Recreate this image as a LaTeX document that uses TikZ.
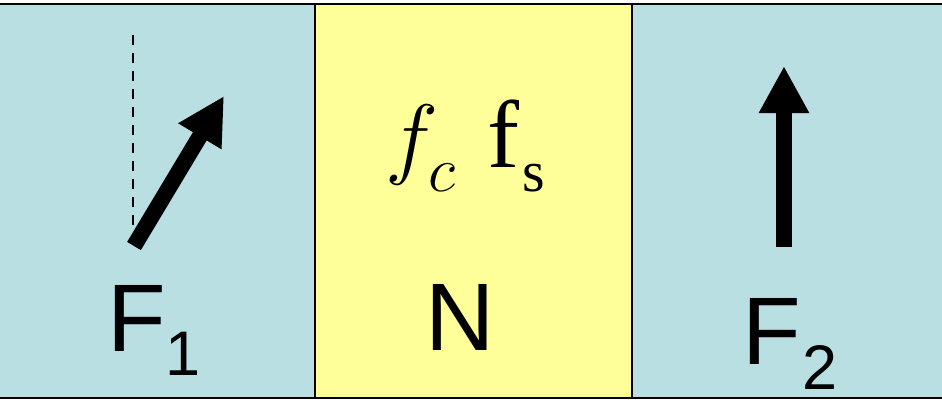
\documentclass[tikz,border=0pt]{standalone}
\usepackage{fix-cm}
\usepackage{fontspec}
\setmainfont{Liberation Serif}
\newfontfamily\arialf{Liberation Sans}
\usetikzlibrary{arrows.meta}
\definecolor{panelblue}{RGB}{185,223,227}
\definecolor{panelyellow}{RGB}{255,255,153}
\tikzset{
  lbl/.style={inner sep=0pt, anchor=base west, font=\arialf\fontsize{96}{100}\selectfont},
  sublbl/.style={inner sep=0pt, anchor=base west, font=\arialf\fontsize{63}{66}\selectfont},
  force/.style={line width=16pt, -{Triangle[length=47pt,width=47pt]}},
  border/.style={line width=2pt, black},
}
\begin{document}
\begin{tikzpicture}[x=1pt,y=-1pt]
\useasboundingbox (0,0) rectangle (942,399);
\fill[white] (0,0) rectangle (942,399);
% panels
\fill[panelblue] (-5,4) rectangle (315,398);
\fill[panelyellow] (315,4) rectangle (632,398);
\fill[panelblue] (632,4) rectangle (947,398);
\draw[border] (-5,4) -- (947,4);
\draw[border] (-5,398) -- (947,398);
\draw[border] (314.5,4) -- (314.5,398);
\draw[border] (632,4) -- (632,398);
% left panel
\coordinate (vtop) at (133,35);
\coordinate (vbot) at (133,228);
\draw[line width=2.5pt, dash pattern=on 10pt off 8pt] (vtop) -- (vbot);
\coordinate (a1s) at (134,246);
\coordinate (a1e) at (224,96);
\draw[force] (a1s) -- (a1e);
\node[lbl] (F1) at (107,351) {F};
\node[sublbl] (F1s) at (165,375) {1};
% middle panel
\node[inner sep=0pt, anchor=base, font=\fontsize{90}{94}\selectfont] (fc) at (412,167) {$f$};
\node[inner sep=0pt, anchor=base, font=\fontsize{64}{68}\selectfont] (fcs) at (442,191) {$c$};
\node[inner sep=0pt, anchor=base, font=\fontsize{96}{100}\selectfont] (fs) at (503,167) {f};
\node[inner sep=0pt, anchor=base, font=\fontsize{58}{62}\selectfont] (fss) at (534,191) {s};
\node[lbl] (N) at (425,350) {N};
% right panel
\coordinate (a2s) at (784,247);
\coordinate (a2e) at (784,66);
\draw[force] (a2s) -- (a2e);
\node[lbl] (F2) at (742,364) {F};
\node[sublbl] (F2s) at (802,389) {2};
\end{tikzpicture}
\end{document}
